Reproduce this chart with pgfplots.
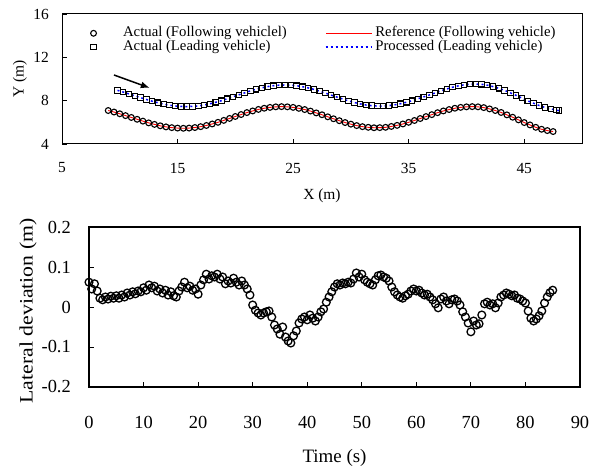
\documentclass[border=0pt]{standalone}
\usepackage{fontspec}
\setmainfont{Liberation Serif}
\usepackage{pgfplots}
\usepackage{pgfplotstable}
\pgfplotsset{compat=1.18}
\usetikzlibrary{arrows.meta}

\definecolor{refred}{RGB}{255,0,0}
\pgfplotsset{
  markleg/.style={legend image code/.code={\path (0bp,0bp) (20bp,0bp); \draw[##1] plot coordinates {(10bp,0bp)};}},
  redleg/.style={legend image code/.code={\fill[refred, draw=none] (0bp,-0.6bp) rectangle (46bp,0.6bp);}},
  blueleg/.style={legend image code/.code={\draw[blue, line width=1.5bp, dash pattern=on 2bp off 3bp] (0bp,0bp) -- (46bp,0bp);}},
}

% following vehicle trajectory (m)
\pgfplotstableread{
x y
9.0 7.09
9.5 6.95
10.0 6.79
10.5 6.62
11.0 6.45
11.5 6.28
12.0 6.11
12.5 5.95
13.0 5.81
13.5 5.68
14.0 5.58
14.5 5.51
15.0 5.47
15.5 5.45
16.0 5.47
16.5 5.52
17.0 5.60
17.5 5.71
18.0 5.85
18.5 6.00
19.0 6.18
19.5 6.36
20.0 6.54
20.5 6.72
21.0 6.90
21.5 7.05
22.0 7.19
22.5 7.30
23.0 7.38
23.5 7.43
24.0 7.45
24.5 7.43
25.0 7.38
25.5 7.29
26.0 7.18
26.5 7.04
27.0 6.87
27.5 6.70
28.0 6.51
28.5 6.33
29.0 6.15
29.5 5.98
30.0 5.83
30.5 5.70
31.0 5.60
31.5 5.54
32.0 5.50
32.5 5.51
33.0 5.54
33.5 5.62
34.0 5.72
34.5 5.85
35.0 6.00
35.5 6.17
36.0 6.35
36.5 6.53
37.0 6.71
37.5 6.89
38.0 7.05
38.5 7.18
39.0 7.30
39.5 7.38
40.0 7.43
40.5 7.45
41.0 7.43
41.5 7.36
42.0 7.24
42.5 7.09
43.0 6.91
43.5 6.69
44.0 6.47
44.5 6.23
45.0 5.98
45.5 5.76
46.0 5.54
46.5 5.36
47.0 5.24
47.5 5.15
}\follow

% leading vehicle trajectory (m)
\pgfplotstableread{
x y
9.8 8.95
10.3 8.79
10.8 8.62
11.3 8.45
11.8 8.28
12.3 8.11
12.8 7.95
13.3 7.81
13.8 7.68
14.3 7.58
14.8 7.51
15.3 7.47
15.8 7.45
16.3 7.47
16.8 7.52
17.3 7.60
17.8 7.71
18.3 7.85
18.8 8.00
19.3 8.18
19.8 8.36
20.3 8.54
20.8 8.72
21.3 8.90
21.8 9.05
22.3 9.19
22.8 9.30
23.3 9.38
23.8 9.43
24.3 9.45
24.8 9.43
25.3 9.38
25.8 9.29
26.3 9.18
26.8 9.04
27.3 8.87
27.8 8.70
28.3 8.51
28.8 8.33
29.3 8.15
29.8 7.98
30.3 7.83
30.8 7.70
31.3 7.60
31.8 7.54
32.3 7.50
32.8 7.51
33.3 7.54
33.8 7.62
34.3 7.72
34.8 7.85
35.3 8.00
35.8 8.17
36.3 8.35
36.8 8.53
37.3 8.72
37.8 8.91
38.3 9.08
38.8 9.24
39.3 9.37
39.8 9.46
40.3 9.52
40.8 9.54
41.3 9.51
41.8 9.43
42.3 9.30
42.8 9.14
43.3 8.95
43.8 8.72
44.3 8.49
44.8 8.24
45.3 7.99
45.8 7.77
46.3 7.55
46.8 7.37
47.3 7.24
47.8 7.12
48.0 7.08
}\lead

% lateral deviation vs time
\pgfplotstableread{
t d
0.0 0.062
0.5 0.045
1.0 0.058
1.5 0.040
2.0 0.022
2.5 0.018
3.0 0.025
3.5 0.020
4.0 0.027
4.5 0.022
5.0 0.028
5.5 0.022
6.0 0.030
6.5 0.025
7.0 0.035
7.5 0.030
8.0 0.038
8.5 0.033
9.0 0.040
9.5 0.038
10.0 0.048
10.5 0.042
11.0 0.055
11.5 0.048
12.0 0.052
12.5 0.040
13.0 0.045
13.5 0.035
14.0 0.042
14.5 0.030
15.0 0.038
15.5 0.028
16.0 0.025
16.5 0.040
17.0 0.050
17.5 0.062
18.0 0.048
18.5 0.052
19.0 0.042
19.5 0.045
20.0 0.032
20.5 0.055
21.0 0.068
21.5 0.082
22.0 0.070
22.5 0.078
23.0 0.075
23.5 0.082
24.0 0.070
24.5 0.075
25.0 0.058
25.5 0.065
26.0 0.060
26.5 0.072
27.0 0.062
27.5 0.055
28.0 0.065
28.5 0.055
29.0 0.045
29.5 0.030
30.0 0.005
30.5 -0.008
31.0 -0.015
31.5 -0.020
32.0 -0.015
32.5 -0.012
33.0 -0.010
33.5 -0.025
34.0 -0.045
34.5 -0.055
35.0 -0.068
35.5 -0.050
36.0 -0.075
36.5 -0.085
37.0 -0.090
37.5 -0.072
38.0 -0.060
38.5 -0.040
39.0 -0.030
39.5 -0.025
40.0 -0.032
40.5 -0.020
41.0 -0.028
41.5 -0.035
42.0 -0.025
42.5 -0.012
43.0 -0.005
43.5 0.012
44.0 0.025
44.5 0.038
45.0 0.050
45.5 0.058
46.0 0.055
46.5 0.060
47.0 0.058
47.5 0.062
48.0 0.060
48.5 0.070
49.0 0.085
49.5 0.075
50.0 0.082
50.5 0.068
51.0 0.062
51.5 0.058
52.0 0.055
52.5 0.068
53.0 0.078
53.5 0.080
54.0 0.075
54.5 0.072
55.0 0.065
55.5 0.050
56.0 0.038
56.5 0.030
57.0 0.025
57.5 0.022
58.0 0.028
58.5 0.032
59.0 0.040
59.5 0.045
60.0 0.040
60.5 0.042
61.0 0.035
61.5 0.030
62.0 0.032
62.5 0.025
63.0 0.018
63.5 0.008
64.0 -0.002
64.5 0.020
65.0 0.025
65.5 0.015
66.0 0.008
66.5 0.018
67.0 0.020
67.5 0.015
68.0 0.005
68.5 -0.012
69.0 -0.025
69.5 -0.040
70.0 -0.062
70.5 -0.035
71.0 -0.045
71.5 -0.042
72.0 -0.020
72.5 0.008
73.0 0.012
73.5 0.005
74.0 0.008
74.5 -0.002
75.0 0.010
75.5 0.025
76.0 0.030
76.5 0.035
77.0 0.032
77.5 0.028
78.0 0.030
78.5 0.022
79.0 0.020
79.5 0.015
80.0 0.010
80.5 -0.010
81.0 -0.028
81.5 -0.035
82.0 -0.030
82.5 -0.022
83.0 -0.010
83.5 0.010
84.0 0.025
84.5 0.036
85.0 0.042
}\dev

\begin{document}
\begin{tikzpicture}
\useasboundingbox (0,0) rectangle (598bp,473bp);

% ---- top: trajectories ----
\begin{axis}[
  at={(62bp,329bp)}, anchor=south west,
  scale only axis, width=520bp, height=130bp,
  xmin=5, xmax=50, ymin=4, ymax=16,
  xtick={5,15,...,45}, ytick={4,8,12,16},
  xtick pos=bottom, ytick pos=left, tick align=inside,
  major tick length=5bp,
  axis line style={line width=1bp, black},
  tick style={line width=0.8bp, black},
  /pgf/number format/assume math mode=true,
  ticklabel style={font=\fontsize{15.5}{15.5}\selectfont, inner sep=0pt},
  xticklabel style={anchor=center, yshift=-24bp},
  yticklabel style={anchor=east, xshift=-13bp},
  xlabel={X (m)}, ylabel={Y (m)},
  label style={font=\fontsize{15.5}{15.5}\selectfont},
  xlabel style={at={(axis description cs:0.5,-0.395)}, anchor=center},
  ylabel style={at={(axis description cs:-0.081,0.5)}, anchor=center},
  legend columns=2, legend cell align=left,
  legend style={at={(axis description cs:0.040,0.905)}, anchor=north west,
    draw=none, fill=none, inner sep=0pt, row sep=0pt,
    font=\fontsize{14.8}{14.8}\selectfont,
    nodes={inner sep=0pt, text height=10.3bp, text depth=3.2bp},
    /tikz/column 1/.style={column sep=19bp},
    /tikz/column 2/.style={column sep=38bp},
    /tikz/column 3/.style={column sep=3bp}},
]
\addplot[only marks, mark=o, mark size=2.9bp, line width=1.1bp, black, markleg]
  table[x=x, y=y] {\follow};
\addlegendentry{Actual (Following vehiclel)}
\addplot[refred, line width=0.9bp, no marks, redleg]
  table[x=x, y=y] {\follow};
\addlegendentry{Reference (Following vehicle)}
\addplot[only marks, mark=square, mark size=2.7bp, line width=1.1bp, black, markleg]
  table[x=x, y=y] {\lead};
\addlegendentry{Actual (Leading vehicle)}
\addplot[blue, line width=1.5bp, dash pattern=on 2bp off 3bp, no marks, blueleg]
  table[x=x, y=y] {\lead};
\addlegendentry{Processed (Leading vehicle)}
\draw[-{Latex[length=9bp,width=7bp]}, line width=1.5bp, black]
  (axis cs:9.5,10.37) -- (axis cs:12.6,9.17);
\end{axis}

% ---- bottom: lateral deviation ----
\begin{axis}[
  at={(89bp,86bp)}, anchor=south west,
  scale only axis, width=491bp, height=160bp,
  xmin=0, xmax=90, ymin=-0.2, ymax=0.2,
  xtick={0,10,...,90}, ytick={-0.2,-0.1,0,0.1,0.2},
  yticklabels={-0.2,-0.1,0,0.1,0.2},
  xtick pos=bottom, ytick pos=left, tick align=inside,
  major tick length=5bp,
  axis line style={line width=1.3bp, black},
  tick style={line width=0.9bp, black},
  /pgf/number format/assume math mode=true,
  ticklabel style={font=\fontsize{18.5}{18.5}\selectfont, inner sep=0pt},
  xticklabel style={anchor=center, yshift=-35bp},
  yticklabel style={anchor=east, xshift=-18bp},
  xlabel={Time (s)},
  ylabel={\scalebox{1.15}[1]{Lateral deviation (m)}},
  label style={font=\fontsize{19}{19}\selectfont},
  xlabel style={at={(axis description cs:0.5,-0.444)}, anchor=center},
  ylabel style={at={(axis description cs:-0.124,0.475)}, anchor=center},
]
\addplot[only marks, mark=o, mark size=3.9bp, line width=1.3bp, black]
  table[x=t, y=d] {\dev};
\end{axis}
\end{tikzpicture}
\end{document}
